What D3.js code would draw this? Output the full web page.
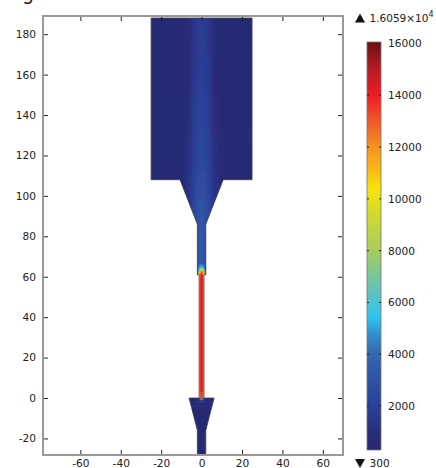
<!DOCTYPE html>
<html lang="en">
<head>
<meta charset="UTF-8">
<title>Temperature field</title>
<script src="https://d3js.org/d3.v7.min.js"></script>
<style>
    html, body { margin: 0; padding: 0; background: #fff; overflow: hidden; }
    text { font-family: "DejaVu Sans", sans-serif; font-size: 10.6px; fill: #222; }
    .frame { fill: none; stroke: #999; stroke-width: 2; }
    .tick line { stroke: #222; }
</style>
</head>
<body>
<svg id="chart" width="436" height="468"></svg>
<script>
const xTicks = [-60, -40, -20, 0, 20, 40, 60];
const yTicks = [-20, 0, 20, 40, 60, 80, 100, 120, 140, 160, 180];
const barTicks = [2000, 4000, 6000, 8000, 10000, 12000, 14000, 16000];
const tempMin = 300;
const tempMax = 16059;

// colour bar stops
const stopTemps = [300, 1000, 2000, 3000, 4000, 4800, 5400, 6500, 8000, 9500, 10400, 11200, 12000, 13000, 14000, 15000, 16059];
const stopColors = ["#282772", "#292e7c", "#2a409a", "#2f52a4", "#3566ad", "#3290cf", "#2ec4f0", "#63c3b8", "#a6cd5c", "#d5da2c", "#f5e50f", "#fbb516", "#f7921e", "#f2592a", "#ed1c24", "#b81c24", "#6b1012"];

// outline of the flow domain
const outlineX = [-25, 25, 25, 10.7, 2.1, 2.1, 1.2, 1.2, 6.2, 2.1, 2.1, -2.1, -2.1, -6.2, -1.2, -1.2, -2.1, -2.1, -10.7, -25];
const outlineY = [188, 188, 108, 108, 86, 61, 61, 0, 0, -16, -28.3, -28.3, -16, 0, 0, 61, 61, 86, 108, 108];

// temperature readings: columns across the domain, rows going down
const fieldX = [-25, -10, -6, -4, -2, -1.2, -0.6, 0, 0.6, 1.2, 2, 4, 6, 10, 25];
const upperY = [195, 170, 150, 130, 112, 100, 90, 80, 60];
const upperTemps = [
    [450, 450, 700, 1350, 1650, 1700, 1750, 1750, 1750, 1700, 1650, 1350, 700, 450, 450],
    [450, 450, 800, 1500, 1800, 1850, 1900, 1900, 1900, 1850, 1800, 1500, 800, 450, 450],
    [450, 480, 950, 1650, 2000, 2050, 2100, 2100, 2100, 2050, 2000, 1650, 950, 480, 450],
    [450, 500, 1150, 1900, 2300, 2350, 2400, 2450, 2400, 2350, 2300, 1900, 1150, 500, 450],
    [450, 500, 1300, 2100, 2600, 2700, 2750, 2800, 2750, 2700, 2600, 2100, 1300, 500, 450],
    [450, 500, 1400, 2200, 2750, 2900, 3000, 3050, 3000, 2900, 2750, 2200, 1400, 500, 450],
    [450, 500, 1500, 2300, 2800, 3000, 3100, 3150, 3100, 3000, 2800, 2300, 1500, 500, 450],
    [450, 500, 1500, 2300, 2800, 3050, 3200, 3300, 3200, 3050, 2800, 2300, 1500, 500, 450]
];
const lowerY = [66, 65, 64, 63, 62, 61, 59, 3, 0, -1, -2, -4, -30];
const lowerTemps = [
    [450, 500, 1500, 2300, 2800, 4200, 4800, 5000, 4800, 4200, 2800, 2300, 1500, 500, 450],
    [450, 500, 1500, 2300, 3000, 4800, 5400, 6000, 5400, 4800, 3000, 2300, 1500, 500, 450],
    [450, 500, 1500, 2300, 3300, 5600, 8500, 10000, 8500, 5600, 3300, 2300, 1500, 500, 450],
    [450, 500, 1500, 2300, 3500, 8500, 11500, 12500, 11500, 8500, 3500, 2300, 1500, 500, 450],
    [450, 500, 1500, 2300, 3500, 10500, 12800, 13600, 12800, 10500, 3500, 2300, 1500, 500, 450],
    [450, 500, 1500, 2300, 3500, 11000, 13500, 14300, 13500, 11000, 3500, 2300, 1500, 500, 450],
    [450, 500, 1500, 2300, 3500, 11000, 13700, 14400, 13700, 11000, 3500, 2300, 1500, 500, 450],
    [450, 500, 1500, 2300, 3500, 10800, 13000, 13800, 13000, 10800, 3500, 2300, 1500, 500, 450],
    [450, 450, 500, 550, 900, 1800, 3600, 5200, 3600, 1800, 900, 550, 500, 450, 450],
    [450, 450, 480, 500, 700, 1100, 1900, 2800, 1900, 1100, 700, 500, 480, 450, 450],
    [450, 450, 450, 480, 520, 600, 800, 1000, 800, 600, 520, 480, 450, 450, 450],
    [450, 450, 450, 450, 450, 450, 450, 450, 450, 450, 450, 450, 450, 450, 450]
];

const frame = { left: 43, right: 343, top: 16, bottom: 455 };
const bar = { left: 367, right: 381, top: 42, bottom: 450 };

const svg = d3.select("#chart");
const defs = svg.append("defs");

const xScale = d3.scaleLinear().domain([-78.5, 70]).range([frame.left, frame.right]);
const yScale = d3.scaleLinear().domain([-28.2, 189]).range([frame.bottom, frame.top]);
const barScale = d3.scaleLinear().domain([tempMin, tempMax]).range([bar.bottom, bar.top]);
const colorScale = d3.scaleLinear().domain(stopTemps).range(stopColors);

defs.append("clipPath").attr("id", "domain-clip")
    .append("path")
    .attr("d", d3.line()(outlineX.map((x, i) => [xScale(x), yScale(outlineY[i])])) + "Z");

defs.append("filter").attr("id", "blur-wide")
    .attr("filterUnits", "userSpaceOnUse")
    .attr("x", 0).attr("y", -40).attr("width", 436).attr("height", 548)
    .append("feGaussianBlur").attr("stdDeviation", "0 6");
defs.append("filter").attr("id", "blur-thin")
    .attr("filterUnits", "userSpaceOnUse")
    .attr("x", 0).attr("y", -40).attr("width", 436).attr("height", 548)
    .append("feGaussianBlur").attr("stdDeviation", "0 0.7");

function drawRows(name, rowY, rowTemps, filterId) {
    const g = field.append("g").attr("filter", `url(#${filterId})`);
    rowTemps.forEach((temps, i) => {
        const id = `${name}-${i}`;
        const grad = defs.append("linearGradient").attr("id", id)
            .attr("gradientUnits", "userSpaceOnUse")
            .attr("x1", xScale(fieldX[0])).attr("x2", xScale(fieldX[fieldX.length - 1]))
            .attr("y1", 0).attr("y2", 0);
        const span = fieldX[fieldX.length - 1] - fieldX[0];
        temps.forEach((t, j) => {
            grad.append("stop")
                .attr("offset", (fieldX[j] - fieldX[0]) / span)
                .attr("stop-color", colorScale(t));
        });
        g.append("rect")
            .attr("x", xScale(fieldX[0]))
            .attr("width", xScale(fieldX[fieldX.length - 1]) - xScale(fieldX[0]))
            .attr("y", yScale(rowY[i]))
            .attr("height", yScale(rowY[i + 1]) - yScale(rowY[i]) + 0.5)
            .attr("fill", `url(#${id})`);
    });
}

const field = svg.append("g").attr("clip-path", "url(#domain-clip)");
drawRows("upper", upperY, upperTemps, "blur-wide");
drawRows("lower", lowerY, lowerTemps, "blur-thin");

svg.append("path")
    .attr("d", d3.line()(outlineX.map((x, i) => [xScale(x), yScale(outlineY[i])])) + "Z")
    .attr("fill", "none")
    .attr("stroke", "#3a3a3a")
    .attr("stroke-opacity", 0.75)
    .attr("stroke-width", 1);

// frame and ticks, all four sides
const plotW = frame.right - frame.left;
const plotH = frame.bottom - frame.top;

function styleAxis(sel) {
    sel.select(".domain").remove();
    sel.selectAll("text").attr("fill", "#222");
}

svg.append("g").attr("transform", `translate(${frame.left},0)`)
    .call(d3.axisLeft(yScale).tickValues(yTicks).tickFormat(d => String(d)).tickSize(-5).tickPadding(7))
    .call(styleAxis);
svg.append("g").attr("transform", `translate(${frame.right},0)`)
    .call(d3.axisRight(yScale).tickValues(yTicks).tickFormat("").tickSize(-5))
    .call(styleAxis);
svg.append("g").attr("transform", `translate(0,${frame.bottom})`)
    .call(d3.axisBottom(xScale).tickValues(xTicks).tickFormat(d => String(d)).tickSize(-5).tickPadding(4))
    .call(styleAxis);
svg.append("g").attr("transform", `translate(0,${frame.top})`)
    .call(d3.axisTop(xScale).tickValues(xTicks).tickFormat("").tickSize(-5))
    .call(styleAxis);

svg.append("rect").attr("class", "frame")
    .attr("x", frame.left).attr("y", frame.top)
    .attr("width", plotW).attr("height", plotH);

// colour bar
const barGrad = defs.append("linearGradient").attr("id", "bar-grad")
    .attr("x1", 0).attr("x2", 0).attr("y1", 1).attr("y2", 0);
stopTemps.forEach((t, i) => {
    barGrad.append("stop")
        .attr("offset", (t - tempMin) / (tempMax - tempMin))
        .attr("stop-color", stopColors[i]);
});
svg.append("rect")
    .attr("x", bar.left).attr("y", bar.top)
    .attr("width", bar.right - bar.left).attr("height", bar.bottom - bar.top)
    .attr("fill", "url(#bar-grad)")
    .attr("stroke", "#777").attr("stroke-width", 0.8);

svg.append("g").attr("transform", `translate(${bar.right},0)`)
    .call(d3.axisRight(barScale).tickValues(barTicks).tickFormat(d => String(d)).tickSize(0).tickPadding(7))
    .call(styleAxis);
const barTickMarks = svg.append("g").attr("stroke", "#222");
barTicks.slice(0, -1).forEach(t => {
    barTickMarks.append("line").attr("x1", bar.left).attr("x2", bar.left + 2).attr("y1", barScale(t)).attr("y2", barScale(t));
    barTickMarks.append("line").attr("x1", bar.right - 2).attr("x2", bar.right).attr("y1", barScale(t)).attr("y2", barScale(t));
});

// max and min markers
svg.append("path").attr("d", "M355,22.5L360,13.5L365,22.5Z").attr("fill", "#111");
const maxLabel = svg.append("text").attr("x", 369.5).attr("y", 22).style("font-size", "10.5px");
maxLabel.append("tspan").text("1.6059\u00d710");
maxLabel.append("tspan").attr("dy", -5).style("font-size", "8px").text("4");

svg.append("path").attr("d", "M355,459L360,468L365,459Z").attr("fill", "#111");
svg.append("text").attr("x", 369.5).attr("y", 467).text(String(tempMin));

// cut off title at the very top of the picture
svg.append("text").attr("x", 22).attr("y", 0).style("font-size", "19px").text("g");
</script>
</body>
</html>
